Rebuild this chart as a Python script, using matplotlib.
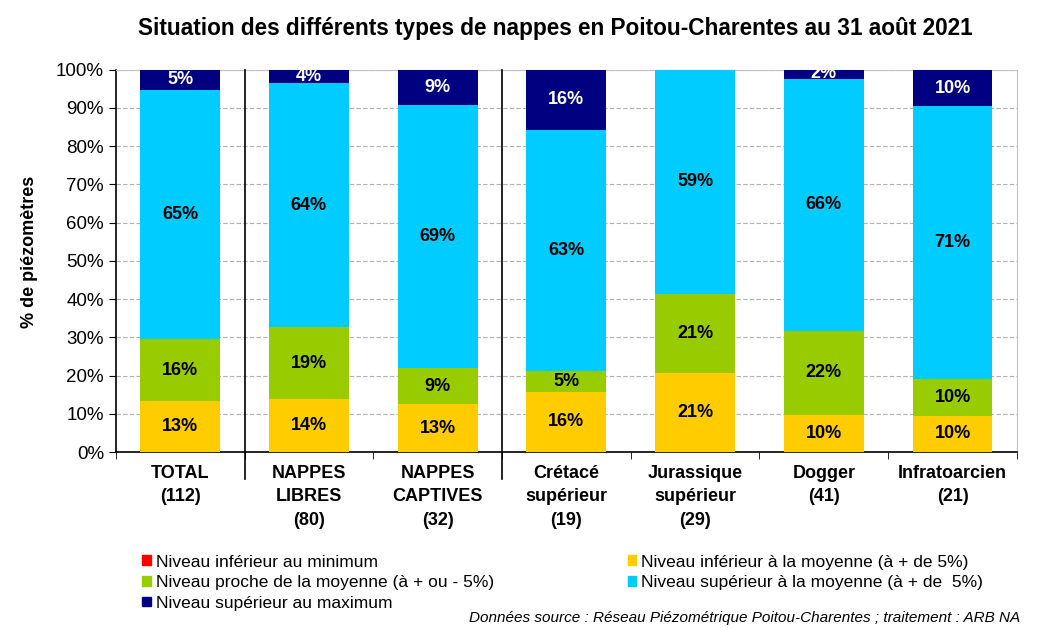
import numpy as np
import matplotlib
matplotlib.use("Agg")
from matplotlib import pyplot as plt
from matplotlib.patches import Patch

categories = ["TOTAL\n(112)", "NAPPES\nLIBRES\n(80)", "NAPPES\nCAPTIVES\n(32)",
              "Crétacé\nsupérieur\n(19)", "Jurassique\nsupérieur\n(29)",
              "Dogger\n(41)", "Infratoarcien\n(21)"]

# % of piezometers per class
inf_min = [0, 0, 0, 0, 0, 0, 0]
inf_moy = [13.4, 13.8, 12.5, 15.8, 20.7, 9.8, 9.5]
proche = [16.1, 18.8, 9.4, 5.3, 20.7, 22.0, 9.5]
sup_moy = [65.2, 63.8, 68.8, 63.2, 58.6, 65.9, 71.4]
sup_max = [5.4, 3.8, 9.4, 15.8, 0, 2.4, 9.5]

series_names = ["Niveau inférieur au minimum",
                "Niveau inférieur à la moyenne (à + de 5%)",
                "Niveau proche de la moyenne (à + ou - 5%)",
                "Niveau supérieur à la moyenne (à + de  5%)",
                "Niveau supérieur au maximum"]
colors = ["#FF0000", "#FFCC00", "#99CC00", "#00CCFF", "#000080"]
text_colors = ["black", "black", "black", "black", "white"]

plt.rcParams['font.family'] = ["Liberation Sans", "DejaVu Sans"]

fig = plt.figure(figsize=(10.43, 6.28), dpi=100)
ax = fig.add_axes([0.111, 0.280, 0.864, 0.609])

x = np.arange(len(categories))
bottom = np.zeros(len(categories))
handles = []
for vals, name, col, tcol in zip([inf_min, inf_moy, proche, sup_moy, sup_max],
                                 series_names, colors, text_colors):
    vals = np.array(vals, dtype=float)
    ax.bar(x, vals, bottom=bottom, width=0.62, color=col, zorder=3)
    for xi, b, v in zip(x, bottom, vals):
        pct = int(np.floor(v + 0.5))
        if pct > 0:
            ax.text(xi, b + v / 2, f"{pct}%", ha="center", va="center",
                    fontsize=13, fontweight="bold", color=tcol, zorder=4)
    bottom += vals
    handles.append(Patch(color=col, label=name))

ax.set_xlim(-0.5, len(categories) - 0.5)
ax.set_ylim(0, 100)
ax.set_yticks(np.arange(0, 101, 10))
ax.set_yticklabels([f"{v}%" for v in range(0, 101, 10)], fontsize=13.5)
ax.yaxis.grid(True, linestyle=(0, (4, 2)), color="#b0b0b0", linewidth=0.8, zorder=0)

ax.set_xticks(x)
ax.set_xticklabels(categories, fontsize=13, fontweight="bold", linespacing=1.5)
ax.tick_params(axis="x", length=0, pad=9)
ax.set_xticks(np.arange(-0.5, len(categories)), minor=True)
ax.tick_params(axis="x", which="minor", length=5, direction="out")
ax.tick_params(axis="y", length=5, direction="out")

for side in ["top", "right"]:
    ax.spines[side].set_color("#c0c0c0")
for side in ["left", "bottom"]:
    ax.spines[side].set_linewidth(1.2)

# separators between groups
for sep in [0.5, 2.5]:
    ax.axvline(sep, ymin=-0.07, ymax=1, color="black", linewidth=1.2,
               clip_on=False, zorder=5)

ax.set_ylabel("% de piézomètres", fontsize=13, fontweight="bold")
ax.yaxis.set_label_coords(-0.086, 0.524)
fig.text(0.532, 0.955, "Situation des différents types de nappes en Poitou-Charentes au 31 août 2021",
         ha="center", va="center", fontsize=16.3, fontweight="bold")

order = [0, 2, 4, 1, 3]
fig.legend([handles[i] for i in order], [series_names[i] for i in order],
           loc="upper left", bbox_to_anchor=(0.136, 0.117), ncol=2,
           frameon=False, prop={"size": 12.5},
           handlelength=0.5, handleheight=0.5, handletextpad=0.3,
           labelspacing=0.32, columnspacing=7.7, borderaxespad=0, borderpad=0)

fig.text(0.978, 0.004, "Données source : Réseau Piézométrique Poitou-Charentes ; traitement : ARB NA",
         ha="right", va="bottom", fontsize=11, style="italic")

fig.savefig("out.png", dpi=100)
